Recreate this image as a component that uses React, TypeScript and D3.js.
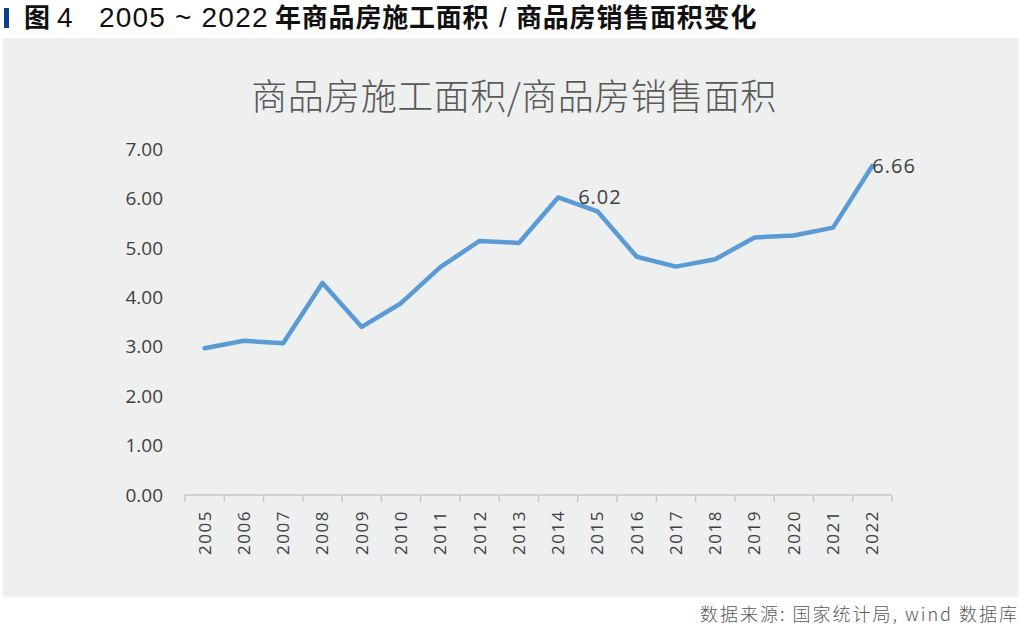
import React, { useRef, useEffect } from 'react';
import * as d3 from 'd3';

const years = [
  '2005', '2006', '2007', '2008', '2009', '2010', '2011', '2012', '2013',
  '2014', '2015', '2016', '2017', '2018', '2019', '2020', '2021', '2022',
];
const ratio = [
  2.97, 3.12, 3.07, 4.29, 3.4, 3.88, 4.61, 5.14, 5.1,
  6.02, 5.74, 4.82, 4.62, 4.77, 5.21, 5.25, 5.41, 6.66,
];
const yTicks = [0, 1, 2, 3, 4, 5, 6, 7];
// data labels shown on the chart
const labels = [
  { year: '2014', text: '6.02', dx: 20 },
  { year: '2022', text: '6.66', dx: 0 },
];

// header pieces: text, latin or cjk, x
const headerParts = [
  { text: '图', latin: false, x: 24 },
  { text: '4', latin: true, x: 57 },
  { text: '2005 ~ 2022', latin: true, x: 99 },
  { text: '年商品房施工面积', latin: false, x: 275 },
  { text: '/', latin: true, x: 499 },
  { text: '商品房销售面积变化', latin: false, x: 516 },
];
const chartTitle = '商品房施工面积/商品房销售面积';
const sourceText = '数据来源: 国家统计局, wind 数据库';

const W = 1024;
const H = 632;
const cjk = '"Noto Sans CJK SC", "Noto Sans", sans-serif';
const num = '"Open Sans", "Noto Sans", sans-serif';
const arial = '"Liberation Sans", Arial, sans-serif';

export default function App() {
  const svgRef = useRef<SVGSVGElement>(null);

  useEffect(() => {
    const svg = d3.select(svgRef.current);
    svg.selectAll('*').remove();

    svg.append('rect').attr('width', W).attr('height', H).attr('fill', '#ffffff');

    // header
    svg.append('rect').attr('x', 4).attr('y', 8).attr('width', 5).attr('height', 20).attr('fill', '#0b3f8f');
    svg
      .append('g')
      .selectAll('text')
      .data(headerParts)
      .join('text')
      .attr('x', (d) => d.x)
      .attr('y', 27)
      .attr('fill', '#111')
      .attr('font-family', (d) => (d.latin ? arial : cjk))
      .attr('font-weight', (d) => (d.latin ? 'normal' : 'bold'))
      .attr('font-size', (d) => (d.latin ? 28 : 26))
      .attr('letter-spacing', (d) => (d.latin ? 1.2 : 0.8))
      .text((d) => d.text);

    // panel
    svg.append('rect').attr('x', 3).attr('y', 38).attr('width', 1016).attr('height', 559).attr('fill', '#eeefef');

    svg
      .append('text')
      .attr('x', 514)
      .attr('y', 110)
      .attr('text-anchor', 'middle')
      .attr('font-family', cjk)
      .attr('font-weight', 300)
      .attr('font-size', 36)
      .attr('letter-spacing', 0.5)
      .attr('fill', '#595959')
      .text(chartTitle);

    const x = d3.scaleBand().domain(years).range([185, 892]);
    const y = d3.scaleLinear().domain([0, 7]).range([495, 149]);
    const cx = (d: string) => (x(d) as number) + x.bandwidth() / 2;

    // y axis labels
    svg
      .append('g')
      .selectAll('text')
      .data(yTicks)
      .join('text')
      .attr('x', 163)
      .attr('y', (d) => y(d))
      .attr('dy', '0.35em')
      .attr('text-anchor', 'end')
      .attr('font-family', num)
      .attr('font-size', 19)
      .attr('fill', '#404040')
      .text((d) => d.toFixed(2));

    // x axis
    const xAxis = svg.append('g');
    xAxis
      .append('line')
      .attr('x1', 185)
      .attr('x2', 892)
      .attr('y1', y(0))
      .attr('y2', y(0))
      .attr('stroke', '#c9c9c9')
      .attr('stroke-width', 1.5);
    const edges = years.map((d) => x(d) as number).concat([892]);
    xAxis
      .selectAll('line.tick')
      .data(edges)
      .join('line')
      .attr('class', 'tick')
      .attr('x1', (d) => d)
      .attr('x2', (d) => d)
      .attr('y1', y(0))
      .attr('y2', y(0) + 7)
      .attr('stroke', '#c9c9c9')
      .attr('stroke-width', 1.5);
    xAxis
      .selectAll('text')
      .data(years)
      .join('text')
      .attr('transform', (d) => `translate(${cx(d)},${y(0) + 15}) rotate(-90)`)
      .attr('dy', '0.35em')
      .attr('text-anchor', 'end')
      .attr('font-family', num)
      .attr('font-size', 17)
      .attr('letter-spacing', 1.5)
      .attr('fill', '#404040')
      .text((d) => d);

    const line = d3
      .line<number>()
      .x((_, i) => cx(years[i]))
      .y((d) => y(d))
      .curve(d3.curveLinear);

    svg
      .append('path')
      .datum(ratio)
      .attr('fill', 'none')
      .attr('stroke', '#5b9bd5')
      .attr('stroke-width', 4.5)
      .attr('stroke-linejoin', 'round')
      .attr('stroke-linecap', 'round')
      .attr('d', line);

    svg
      .append('g')
      .selectAll('text')
      .data(labels)
      .join('text')
      .attr('x', (d) => cx(d.year) + d.dx)
      .attr('y', (d) => y(ratio[years.indexOf(d.year)]))
      .attr('dy', '0.35em')
      .attr('font-family', num)
      .attr('font-size', 20)
      .attr('letter-spacing', 1)
      .attr('fill', '#404040')
      .text((d) => d.text);

    // source
    svg
      .append('text')
      .attr('x', 1019)
      .attr('y', 621)
      .attr('text-anchor', 'end')
      .attr('font-family', cjk)
      .attr('font-weight', 300)
      .attr('font-size', 18)
      .attr('letter-spacing', 2)
      .attr('fill', '#595959')
      .text(sourceText);
  }, []);

  return (
    <svg
      ref={svgRef}
      width={W}
      height={H}
      style={{ position: 'absolute', left: 0, top: 0 }}
      xmlns="http://www.w3.org/2000/svg"
    />
  );
}
